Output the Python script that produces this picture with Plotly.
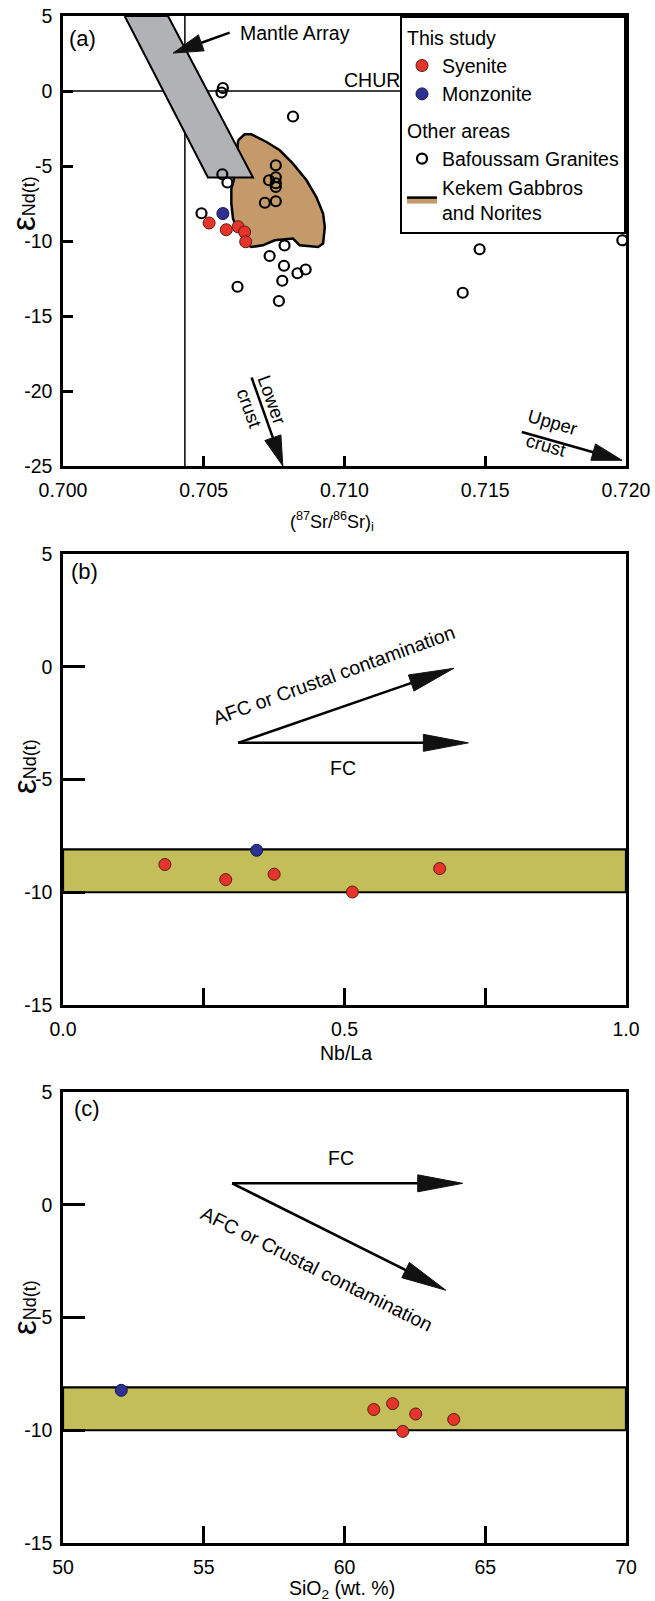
import math
import plotly.graph_objects as go

# ---------------- data ----------------
# Panel (a): (87Sr/86Sr)i vs eNd(t)
granite_sr = [0.70568, 0.70563, 0.70817, 0.70756, 0.70756, 0.70732, 0.70756, 0.70756,
              0.70717, 0.70756, 0.70566, 0.70584, 0.70492, 0.70787, 0.70734, 0.70785,
              0.70833, 0.70862, 0.70779, 0.70620, 0.70767, 0.71987, 0.71480, 0.71420]
granite_nd = [0.2, -0.1, -1.7, -4.95, -5.75, -5.95, -6.15, -6.4,
              -7.45, -7.35, -5.55, -6.1, -8.15, -10.3, -11.0, -11.65,
              -12.15, -11.9, -12.65, -13.05, -14.0, -9.95, -10.55, -13.45]
syenite_sr = [0.70519, 0.70580, 0.70622, 0.70645, 0.70649]
syenite_nd_a = [-8.8, -9.25, -9.05, -9.4, -10.05]
monzonite_sr = [0.70568]
monzonite_nd_a = [-8.17]

kekem_sr = [0.70622, 0.70645, 0.70669, 0.70723, 0.70770, 0.70817, 0.70865, 0.70900,
            0.70924, 0.70930, 0.70924, 0.70906, 0.70841, 0.70817, 0.70752, 0.70710,
            0.70669, 0.70652, 0.70634, 0.70616, 0.70604, 0.70598, 0.70598, 0.70607,
            0.70616, 0.70618]
kekem_nd = [-3.29, -2.89, -2.89, -3.40, -3.95, -4.84, -5.95, -7.07,
            -8.17, -9.07, -10.17, -10.40, -10.29, -9.84, -9.95, -10.29,
            -10.40, -10.22, -9.62, -9.07, -8.51, -7.51, -6.51, -5.91,
            -4.84, -3.95]
mantle_sr = [0.70219, 0.70515, 0.70675, 0.70373]
mantle_nd = [5.0, -5.77, -5.77, 5.0]
bulk_earth_sr = 0.70433
chur_nd = 0.0

# Panel (b): Nb/La vs eNd(t)
syenite_nbla = [0.181, 0.289, 0.375, 0.514, 0.669]
syenite_nd_b = [-8.77, -9.44, -9.20, -9.99, -8.95]
monzonite_nbla = [0.344]
monzonite_nd_b = [-8.14]

# Panel (c): SiO2 vs eNd(t)
syenite_sio2 = [61.04, 61.71, 62.53, 63.88, 62.07]
syenite_nd_c = [-9.08, -8.82, -9.28, -9.52, -10.05]
monzonite_sio2 = [52.07]
monzonite_nd_c = [-8.23]

band_top = -8.1
band_bottom = -10.0

# arrows: (start_x, start_y, tip_x, tip_y)
arrow_mantle = (0.70592, 3.89, 0.70391, 2.53)
arrow_lower = (0.70670, -19.1, 0.70781, -25.0)
arrow_upper = (0.71630, -22.73, 0.71986, -24.62)
arrow_b_fc = (0.311, -3.375, 0.720, -3.375)
arrow_b_afc = (0.311, -3.375, 0.694, -0.07)
arrow_c_fc = (56.01, 0.95, 64.2, 0.95)
arrow_c_afc = (56.01, 0.95, 63.6, -3.79)

# tick labels
xa_ticks = [0.700, 0.705, 0.710, 0.715, 0.720]
xa_labels = ["0.700", "0.705", "0.710", "0.715", "0.720"]
ya_ticks = [5, 0, -5, -10, -15, -20, -25]
ya_labels = ["5", "0", "-5", "-10", "-15", "-20", "-25"]
xb_ticks = [0, 0.5, 1.0]
xb_labels = ["0.0", "0.5", "1.0"]
xb_minor = [0.25, 0.75]
yb_ticks = [5, 0, -5, -10, -15]
yb_labels = ["5", "0", "-5", "-10", "-15"]
xc_ticks = [50, 55, 60, 65, 70]
xc_labels = ["50", "55", "60", "65", "70"]

# ---------------- styling / layout constants ----------------
W, H = 655, 1601
FONT = "Liberation Sans, Arial, Helvetica, sans-serif"
FS = 19.5
RED = "#E5352A"
BLUE = "#2E3192"
TAN = "#C49A6A"
GRAY = "#B0B2B5"
BAND = "#C4BE5A"

PX_L, PX_R = 63, 626
panels = {
    "a": dict(top=16, bot=466, xr=[0.700, 0.720], yr=[-25, 5]),
    "b": dict(top=554, bot=1005, xr=[0.0, 1.0], yr=[-15, 5]),
    "c": dict(top=1092, bot=1543, xr=[50, 70], yr=[-15, 5]),
}


def ypaper(px):
    return 1 - px / H


def arrow(p, a, xref, yref, head_len, head_w, lw=2.5):
    pan = panels[p]
    sx = (PX_R - PX_L) / (pan["xr"][1] - pan["xr"][0])
    sy = (pan["bot"] - pan["top"]) / (pan["yr"][1] - pan["yr"][0])
    x0, y0, x1, y1 = a
    dx, dy = (x1 - x0) * sx, (y1 - y0) * sy
    n = math.hypot(dx, dy)
    ux, uy = dx / n, dy / n
    bx, by = x1 - head_len * ux / sx, y1 - head_len * uy / sy
    px_, py_ = -uy, ux
    hx = head_w / 2 * px_ / sx
    hy = head_w / 2 * py_ / sy
    line = go.Scatter(x=[x0, x1 - (head_len - 2) * ux / sx], y=[y0, y1 - (head_len - 2) * uy / sy],
                      mode="lines", line=dict(color="black", width=lw),
                      xaxis=xref, yaxis=yref, showlegend=False, hoverinfo="skip")
    tri = go.Scatter(x=[x1, bx + hx, bx - hx, x1], y=[y1, by + hy, by - hy, y1],
                     mode="lines", fill="toself", fillcolor="#111111",
                     line=dict(color="#111111", width=1),
                     xaxis=xref, yaxis=yref, showlegend=False, hoverinfo="skip")
    return [line, tri]


fig = go.Figure()

# ---- panel (a)
fig.add_trace(go.Scatter(x=kekem_sr + [kekem_sr[0]], y=kekem_nd + [kekem_nd[0]],
                         mode="lines", fill="toself", fillcolor=TAN,
                         line=dict(color="black", width=2.5),
                         name="Kekem Gabbros<br>and Norites", legendgroup="other",
                         legendgrouptitle=dict(text="Other areas"), legendrank=4,
                         xaxis="x", yaxis="y"))
fig.add_trace(go.Scatter(x=mantle_sr + [mantle_sr[0]], y=mantle_nd + [mantle_nd[0]],
                         mode="lines", fill="toself", fillcolor=GRAY,
                         line=dict(color="black", width=2),
                         showlegend=False, xaxis="x", yaxis="y"))
fig.add_trace(go.Scatter(x=granite_sr, y=granite_nd, mode="markers",
                         marker=dict(symbol="circle-open", size=10, color="black",
                                     line=dict(width=2.2, color="black")),
                         name="Bafoussam Granites", legendgroup="other",
                         legendgrouptitle=dict(text="Other areas"), legendrank=3,
                         xaxis="x", yaxis="y"))
fig.add_trace(go.Scatter(x=syenite_sr, y=syenite_nd_a, mode="markers",
                         marker=dict(size=12, color=RED, line=dict(width=1, color="#5a1a14")),
                         name="Syenite", legendgroup="this",
                         legendgrouptitle=dict(text="This study"), legendrank=1,
                         xaxis="x", yaxis="y"))
fig.add_trace(go.Scatter(x=monzonite_sr, y=monzonite_nd_a, mode="markers",
                         marker=dict(size=12, color=BLUE, line=dict(width=1, color="#15174a")),
                         name="Monzonite", legendgroup="this",
                         legendgrouptitle=dict(text="This study"), legendrank=2,
                         xaxis="x", yaxis="y"))
for a in (arrow_mantle, arrow_lower, arrow_upper):
    for t in arrow("a", a, "x", "y", 30, 17):
        fig.add_trace(t)

# ---- panel (b)
for a in (arrow_b_fc, arrow_b_afc):
    for t in arrow("b", a, "x2", "y2", 45, 17):
        fig.add_trace(t)
fig.add_trace(go.Scatter(x=syenite_nbla, y=syenite_nd_b, mode="markers",
                         marker=dict(size=12, color=RED, line=dict(width=1, color="#5a1a14")),
                         showlegend=False, xaxis="x2", yaxis="y2"))
fig.add_trace(go.Scatter(x=monzonite_nbla, y=monzonite_nd_b, mode="markers",
                         marker=dict(size=12, color=BLUE, line=dict(width=1, color="#15174a")),
                         showlegend=False, xaxis="x2", yaxis="y2"))

# ---- panel (c)
for a in (arrow_c_fc, arrow_c_afc):
    for t in arrow("c", a, "x3", "y3", 45, 17):
        fig.add_trace(t)
fig.add_trace(go.Scatter(x=syenite_sio2, y=syenite_nd_c, mode="markers",
                         marker=dict(size=12, color=RED, line=dict(width=1, color="#5a1a14")),
                         showlegend=False, xaxis="x3", yaxis="y3"))
fig.add_trace(go.Scatter(x=monzonite_sio2, y=monzonite_nd_c, mode="markers",
                         marker=dict(size=12, color=BLUE, line=dict(width=1, color="#15174a")),
                         showlegend=False, xaxis="x3", yaxis="y3"))

# ---------------- axes ----------------
xdom = [PX_L / W, PX_R / W]


def xaxis(p, tv, tt, anchor, ticklen, minor_vals=None):
    pan = panels[p]
    d = dict(domain=xdom, range=pan["xr"], anchor=anchor, tickvals=tv, ticktext=tt,
             automargin=False,
             showgrid=False, zeroline=False, showline=True, linecolor="black",
             linewidth=2.5, mirror=True, ticks="inside", ticklen=ticklen,
             tickwidth=2.5, tickcolor="black", ticklabelstandoff=5,
             tickfont=dict(size=FS, color="black", family=FONT))
    if minor_vals:
        d["minor"] = dict(tickmode="array", tickvals=minor_vals, ticks="inside",
                          ticklen=ticklen, tickwidth=2.5, tickcolor="black", showgrid=False)
    return d


def yaxis(p, tv, tt, anchor, ticklen):
    pan = panels[p]
    return dict(domain=[ypaper(pan["bot"]), ypaper(pan["top"])], range=pan["yr"],
                anchor=anchor, tickvals=tv, ticktext=tt, automargin=False,
                showgrid=False, zeroline=False, showline=True, linecolor="black",
                linewidth=2.5, mirror=True, ticks="inside", ticklen=ticklen,
                tickwidth=2.5, tickcolor="black", ticklabelstandoff=4,
                tickfont=dict(size=FS, color="black", family=FONT))


shapes = [
    dict(type="line", xref="x", yref="y", x0=bulk_earth_sr, x1=bulk_earth_sr, y0=-25, y1=5,
         line=dict(color="black", width=1.5), layer="below"),
    dict(type="line", xref="x", yref="y", x0=0.700, x1=0.720, y0=chur_nd, y1=chur_nd,
         line=dict(color="black", width=1.5), layer="below"),
    dict(type="rect", xref="x2 domain", yref="y2", x0=0, x1=1, y0=band_bottom, y1=band_top,
         fillcolor=BAND, line=dict(color="black", width=2.2), layer="below"),
    dict(type="rect", xref="x3 domain", yref="y3", x0=0, x1=1, y0=band_bottom, y1=band_top,
         fillcolor=BAND, line=dict(color="black", width=2.2), layer="below"),
]

ann = []


def txt(text, x, y, xref, yref, size=FS, angle=0, xanchor="center", yanchor="middle"):
    ann.append(dict(text=text, x=x, y=y, xref=xref, yref=yref, showarrow=False,
                    textangle=angle, xanchor=xanchor, yanchor=yanchor,
                    font=dict(size=size, color="black", family=FONT)))


# panel labels
txt("(a)", 0.70071, 3.49, "x", "y", size=22)
txt("(b)", 0.0386, 4.21, "x2", "y2", size=22)
txt("(c)", 50.84, 4.29, "x3", "y3", size=22)
# panel (a) annotations
txt("Mantle Array", 0.70621, 3.85, "x", "y", xanchor="left")
txt("CHUR", 0.71203, 0.75, "x", "y", xanchor="right")
txt("Lower<br>crust", 0.70702, -20.82, "x", "y", size=18.5, angle=70)
txt("Upper<br>crust", 0.71725, -22.85, "x", "y", size=18.5, angle=16)
# panel (b)
txt("AFC or Crustal contamination", 0.481, -0.37, "x2", "y2", size=19.5, angle=-20)
txt("FC", 0.498, -4.51, "x2", "y2", size=19.5)
# panel (c)
txt("FC", 59.86, 2.07, "x3", "y3", size=19.5)
txt("AFC or Crustal contamination", 59.03, -2.85, "x3", "y3", size=19.5, angle=26.5)

# axis titles
ytitle = "<span style='font-size:33px'>ε</span>Nd(t)"
for ycen in (204, 767, 1308):
    txt(ytitle, 24 / W, ypaper(ycen), "paper", "paper", size=18, angle=-90)
txt("(<sup>87</sup>Sr/<sup>86</sup>Sr)<sub>i</sub>", 332 / W, ypaper(521), "paper", "paper", size=18)
txt("Nb/La", 346 / W, ypaper(1053), "paper", "paper", size=FS)
txt("SiO<sub>2</sub> (wt. %)", 342 / W, ypaper(1589), "paper", "paper", size=FS)

fig.update_layout(
    width=W, height=H, margin=dict(l=0, r=0, t=0, b=0, autoexpand=False),
    paper_bgcolor="white", plot_bgcolor="white",
    font=dict(family=FONT, color="black", size=FS),
    xaxis=xaxis("a", xa_ticks, xa_labels, "y", 10),
    yaxis=yaxis("a", ya_ticks, ya_labels, "x", 10),
    xaxis2=xaxis("b", xb_ticks, xb_labels, "y2", 17, xb_minor),
    yaxis2=yaxis("b", yb_ticks, yb_labels, "x2", 22),
    xaxis3=xaxis("c", xc_ticks, xc_labels, "y3", 17),
    yaxis3=yaxis("c", yb_ticks, yb_labels, "x3", 22),
    shapes=shapes, annotations=ann,
    legend=dict(x=PX_R / W, xanchor="right", y=ypaper(16), yanchor="top",
                xref="paper", yref="paper",
                bgcolor="white", bordercolor="black", borderwidth=2,
                font=dict(size=FS, family=FONT, color="black"),
                grouptitlefont=dict(size=FS, family=FONT, color="black"),
                traceorder="grouped", tracegroupgap=8, itemsizing="trace"),
    showlegend=True,
)

fig.write_html("out.html", config={"displayModeBar": False},
               post_script="document.body.style.margin='0';document.body.style.padding='0';")
